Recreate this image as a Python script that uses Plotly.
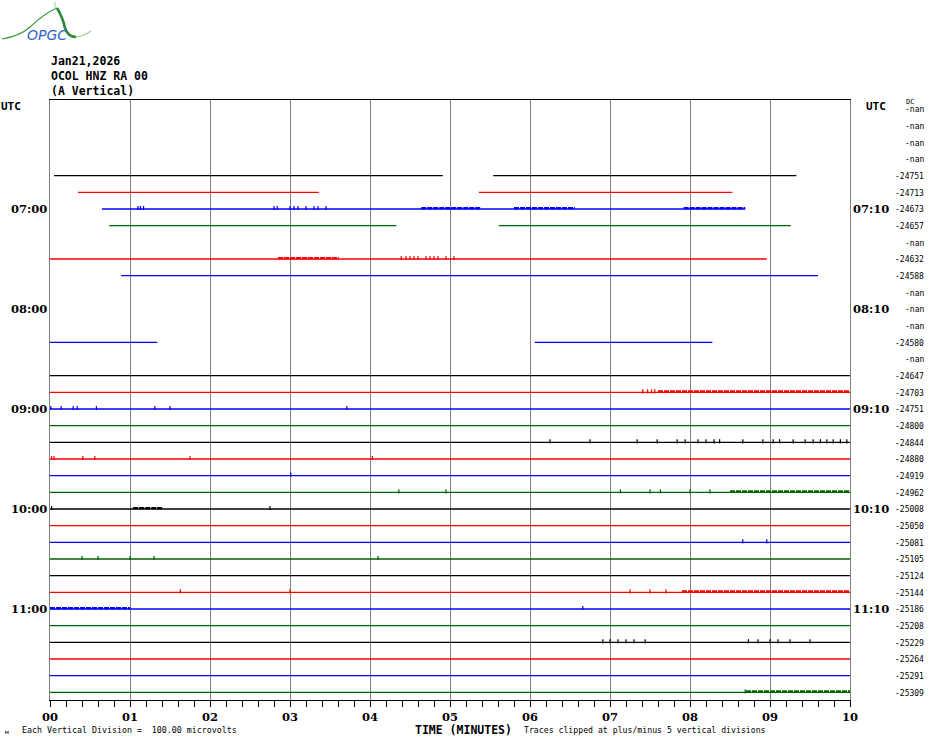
import plotly.graph_objects as go

# ---------------- data ----------------
ROW_COUNT = 36                      # 10-minute rows, 06:00 .. 12:00 UTC
TRACE_COLORS = ["#000000", "#ff0000", "#0000ff", "#006400"]

LEFT_LABEL_ROWS = [6, 12, 18, 24, 30]
LEFT_LABELS = ["07:00", "08:00", "09:00", "10:00", "11:00"]
RIGHT_LABELS = ["07:10", "08:10", "09:10", "10:10", "11:10"]

DC_OFFSETS = ["-nan", "-nan", "-nan", "-nan", "-24751", "-24713", "-24673", "-24657",
              "-nan", "-24632", "-24588", "-nan", "-nan", "-nan", "-24580", "-nan",
              "-24647", "-24703", "-24751", "-24800", "-24844", "-24880", "-24919",
              "-24962", "-25008", "-25050", "-25081", "-25105", "-25124", "-25144",
              "-25186", "-25208", "-25229", "-25264", "-25291", "-25309"]

MINUTE_TICKS = [0, 1, 2, 3, 4, 5, 6, 7, 8, 9, 10]
MINUTE_TICK_TEXT = ["00", "01", "02", "03", "04", "05", "06", "07", "08", "09", "10"]

# data segments per row (start minute, end minute)
SEGMENTS = {
    4: [(0.05, 4.91), (5.54, 9.33)],
    5: [(0.35, 3.36), (5.36, 8.53)],
    6: [(0.65, 8.69)],
    7: [(0.74, 4.33), (5.61, 9.26)],
    9: [(0.00, 8.96)],
    10: [(0.89, 9.60)],
    14: [(0.00, 1.34), (6.06, 8.28)],
}
FULL_ROWS = [16, 17, 18, 19, 20, 21, 22, 23, 24, 25, 26, 27, 28, 29, 30, 31, 32, 33, 34, 35]

# dense noisy stretches (row, start minute, end minute)
NOISE_BANDS = [(6, 4.64, 5.39), (6, 5.80, 6.56), (6, 7.92, 8.69), (9, 2.85, 3.61),
               (17, 7.60, 10.0), (23, 8.50, 10.0), (24, 1.04, 1.41), (29, 7.90, 10.0),
               (30, 0.00, 1.00), (35, 8.70, 10.0)]

# isolated small spikes (minutes) per row
BLIPS = {
    6: [1.10, 1.13, 1.17, 2.80, 2.84, 3.00, 3.05, 3.10, 3.20, 3.30, 3.35, 3.45],
    9: [4.39, 4.45, 4.50, 4.55, 4.60, 4.70, 4.75, 4.80, 4.85, 4.95, 5.05],
    17: [7.41, 7.47, 7.52, 7.56],
    18: [0.01, 0.14, 0.29, 0.34, 0.58, 1.31, 1.50, 3.71],
    20: [6.25, 6.75, 7.34, 7.59, 7.84, 7.94, 8.10, 8.20, 8.30, 8.37, 8.66, 8.91, 9.04,
         9.12, 9.29, 9.44, 9.54, 9.63, 9.71, 9.79, 9.88, 9.96],
    21: [0.02, 0.05, 0.41, 0.56, 1.75, 4.03],
    22: [3.01],
    23: [4.36, 4.95, 7.13, 7.50, 7.63, 8.00, 8.25],
    24: [0.02, 2.75],
    26: [8.66, 8.96],
    27: [0.40, 0.60, 1.00, 1.30, 4.10],
    29: [1.63, 3.00, 7.25, 7.50, 7.70],
    30: [6.66],
    32: [6.91, 7.00, 7.10, 7.20, 7.30, 7.44, 8.73, 8.85, 9.00, 9.10, 9.25, 9.50],
    35: [8.69],
}

# ---------------- figure ----------------
fig = go.Figure()

row_segments = dict(SEGMENTS)
for r in FULL_ROWS:
    row_segments[r] = [(0.0, 10.0)]

for r in sorted(row_segments):
    xs, ys = [], []
    for (a, b) in row_segments[r]:
        xs += [a, b, None]
        ys += [r, r, None]
    fig.add_trace(go.Scatter(x=xs, y=ys, mode="lines", hoverinfo="skip",
                             line=dict(color=TRACE_COLORS[r % 4], width=1.3),
                             showlegend=False))

for (r, a, b) in NOISE_BANDS:
    fig.add_trace(go.Scatter(x=[a, b], y=[r - 0.05, r - 0.05], mode="lines",
                             hoverinfo="skip", showlegend=False,
                             line=dict(color=TRACE_COLORS[r % 4], width=2.4, dash="5px,1px")))

for r, xs in BLIPS.items():
    fig.add_trace(go.Scatter(x=xs, y=[r - 0.06] * len(xs), mode="markers",
                             hoverinfo="skip", showlegend=False,
                             marker=dict(symbol="line-ns", size=3,
                                         line=dict(color=TRACE_COLORS[r % 4], width=1.2))))

MONO = "DejaVu Sans Mono"
SERIF_B = "DejaVu Serif"

annotations = []
# left/right hour labels
for r, lt, rt in zip(LEFT_LABEL_ROWS, LEFT_LABELS, RIGHT_LABELS):
    annotations.append(dict(x=0, xref="paper", y=r, yref="y", text="<b>%s</b>" % lt,
                            xanchor="right", xshift=-1, showarrow=False,
                            font=dict(family=SERIF_B, size=11.5, color="black")))
    annotations.append(dict(x=1, xref="paper", y=r, yref="y", text="<b>%s</b>" % rt,
                            xanchor="left", xshift=1, showarrow=False,
                            font=dict(family=SERIF_B, size=11.5, color="black")))
# UTC labels
annotations.append(dict(x=0, xref="paper", y=-0.15, yref="y", text="<b>UTC</b>",
                        xanchor="left", xshift=-51, showarrow=False,
                        font=dict(family=MONO, size=11, color="black")))
annotations.append(dict(x=1, xref="paper", y=-0.15, yref="y", text="<b>UTC</b>",
                        xanchor="left", xshift=14, showarrow=False,
                        font=dict(family=MONO, size=11, color="black")))
# DC offsets
for r, t in enumerate(DC_OFFSETS):
    annotations.append(dict(x=1, xref="paper", y=r + 0.05, yref="y", text=t,
                            xanchor="right", xshift=76, showarrow=False,
                            font=dict(family=MONO, size=8, color="black")))
annotations.append(dict(x=1, xref="paper", y=-0.4, yref="y", text="DC",
                        xanchor="right", xshift=66, showarrow=False,
                        font=dict(family=MONO, size=7, color="black")))
# header
for i, t in enumerate(["Jan21,2026", "OCOL HNZ RA 00", "(A Vertical)"]):
    annotations.append(dict(x=0, xref="paper", y=(700 - (61 + 15 * i)) / 600, yref="paper",
                            text="<b>%s</b>" % t, xanchor="left", yanchor="middle",
                            showarrow=False, xshift=-1,
                            font=dict(family=MONO, size=11.5, color="black")))
# footer
annotations.append(dict(x=(20 - 50) / 800, xref="paper", y=(700 - 730) / 600, yref="paper",
                        text="Each Vertical Division =  100.00 microvolts",
                        xanchor="left", yanchor="middle", showarrow=False,
                        font=dict(family=MONO, size=8.3, color="black")))
annotations.append(dict(x=(3 - 50) / 800, xref="paper", y=(700 - 732) / 600, yref="paper",
                        text="м", xanchor="left", yanchor="middle", showarrow=False,
                        font=dict(family=MONO, size=6, color="black")))
annotations.append(dict(x=(413 - 50) / 800, xref="paper", y=(700 - 730) / 600, yref="paper",
                        text="<b>TIME (MINUTES)</b>", xanchor="left", yanchor="middle",
                        showarrow=False, font=dict(family=MONO, size=11.5, color="black")))
annotations.append(dict(x=(522 - 50) / 800, xref="paper", y=(700 - 730) / 600, yref="paper",
                        text="Traces clipped at plus/minus 5 vertical divisions",
                        xanchor="left", yanchor="middle", showarrow=False,
                        font=dict(family=MONO, size=8.2, color="black")))
# logo text
annotations.append(dict(x=(47 - 50) / 800, xref="paper", y=(700 - 35) / 600, yref="paper",
                        text="<i>OPGC</i>", xanchor="center", yanchor="middle",
                        showarrow=False, font=dict(family="DejaVu Sans", size=14, color="#2f62c8")))


def P(px, py):
    return "%.5f,%.5f" % ((px - 50) / 800, (700 - py) / 600)


shapes = [
    dict(type="path", xref="paper", yref="paper",
         path="M " + P(2, 39) + " Q " + P(20, 36) + " " + P(30, 27) + " Q " + P(45, 13) + " " + P(57, 8),
         line=dict(color="#3a9a3a", width=1.2)),
    dict(type="path", xref="paper", yref="paper",
         path="M " + P(57, 8) + " Q " + P(63, 18) + " " + P(65, 28) + " Q " + P(68, 37) + " " + P(76, 37),
         line=dict(color="#2e8b3a", width=2.6)),
    dict(type="path", xref="paper", yref="paper",
         path="M " + P(76, 37) + " Q " + P(84, 36) + " " + P(91, 31),
         line=dict(color="#9acd8a", width=1.2)),
    dict(type="line", xref="paper", yref="paper",
         x0=(55 - 50) / 800, x1=(55 - 50) / 800, y0=(700 - 2) / 600, y1=(700 - 9) / 600,
         line=dict(color="#9acd8a", width=1)),
]

fig.update_layout(
    width=930, height=744,
    margin=dict(l=50, r=80, t=100, b=44),
    paper_bgcolor="white", plot_bgcolor="white",
    showlegend=False,
    annotations=annotations,
    shapes=shapes,
    xaxis=dict(range=[0, 10], tickvals=MINUTE_TICKS, ticktext=MINUTE_TICK_TEXT,
               showgrid=True, gridcolor="#808080", gridwidth=1, zeroline=False,
               showline=True, linecolor="black", linewidth=1, mirror=True,
               ticks="outside", ticklen=6, tickcolor="black", tickwidth=1,
               minor=dict(dtick=0.2, ticks="outside", ticklen=6, tickcolor="black",
                          showgrid=False),
               tickfont=dict(family=SERIF_B, size=11.5, color="black", weight="bold"),
               fixedrange=True),
    yaxis=dict(range=[ROW_COUNT - 0.54, -0.54], showgrid=False, zeroline=False,
               showticklabels=False, ticks="", showline=True, linecolor="#808080",
               linewidth=1, mirror=True, fixedrange=True),
)

fig.write_html("out.html", config={"displayModeBar": False},
               post_script="document.body.style.margin='0px';document.body.style.overflow='hidden';")
